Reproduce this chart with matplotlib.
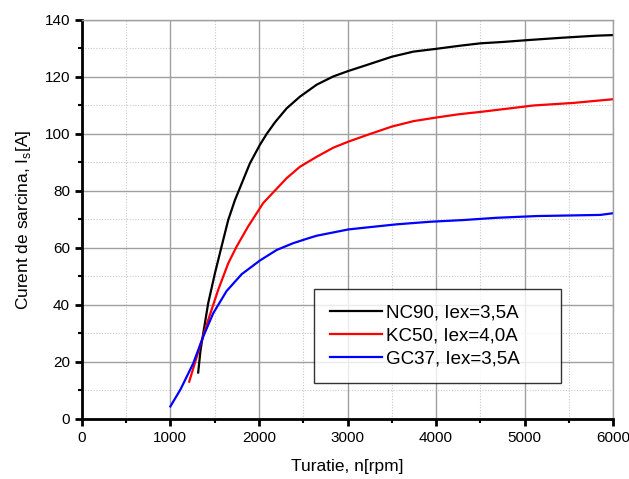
import matplotlib

matplotlib.use("Agg")
import matplotlib.pyplot as plt
from matplotlib.ticker import MultipleLocator

plt.rcParams["font.family"] = ["Liberation Sans", "DejaVu Sans"]

# NC90, Iex=3,5A
nc90_n = [1314, 1340, 1371, 1427, 1503, 1578, 1653, 1729, 1898, 2011, 2087, 2181,
          2313, 2463, 2652, 2840, 3009, 3217, 3500, 3744, 4008, 4252, 4497, 4760, 5062,
          5438, 5816, 6000]
nc90_i = [16.3, 24, 30, 40.6, 51.1, 60.5, 69.8, 76.8, 89.7, 96.2, 100, 104.1,
          109, 113.1, 117.3, 120.2, 122.1, 124.2, 127.1, 128.9, 129.9, 130.9, 131.8, 132.3, 133,
          133.8, 134.5, 134.7]

# KC50, Iex=4,0A
kc50_n = [1213, 1333, 1427, 1540, 1653, 1748, 1879, 2049, 2313, 2463, 2652,
          2840, 3009, 3217, 3500, 3744, 4008, 4252, 4516, 4836, 5099, 5551, 6000]
kc50_i = [13.1, 25.4, 34.7, 45.3, 54.6, 60.5, 67.6, 75.8, 84.5, 88.5, 92,
          95.2, 97.3, 99.6, 102.6, 104.5, 105.8, 106.9, 107.8, 109, 110, 110.9, 112.2]

# GC37, Iex=3,5A
gc37_n = [1000, 1115, 1258, 1371, 1484, 1635, 1805, 2011, 2200, 2388, 2557, 2652, 3009,
          3217, 3556, 3932, 4308, 4686, 5138, 5853, 6000]
gc37_i = [4.4, 10.4, 19.5, 28.9, 37.1, 44.9, 50.8, 55.6, 59.3, 61.7, 63.4, 64.3, 66.5,
          67.2, 68.3, 69.2, 69.8, 70.6, 71.2, 71.6, 72.2]

fig = plt.figure(figsize=(6.29, 4.79), dpi=100)
ax = fig.add_axes([0.130, 0.1253, 0.845, 0.833])

ax.plot(nc90_n, nc90_i, color="black", lw=1.6, label="NC90, Iex=3,5A")
ax.plot(kc50_n, kc50_i, color="#ff0000", lw=1.6, label="KC50, Iex=4,0A")
ax.plot(gc37_n, gc37_i, color="#0000ff", lw=1.6, label="GC37, Iex=3,5A")

ax.set_xlim(0, 6000)
ax.set_ylim(0, 140)
ax.xaxis.set_major_locator(MultipleLocator(1000))
ax.xaxis.set_minor_locator(MultipleLocator(500))
ax.yaxis.set_major_locator(MultipleLocator(20))
ax.yaxis.set_minor_locator(MultipleLocator(10))

ax.grid(True, which="major", color="#a0a0a0", lw=1.0)
ax.grid(True, which="minor", color="#c8c8c8", lw=0.8, linestyle=(0, (1, 1.5)))
ax.set_axisbelow(True)

for side in ("top", "right"):
    ax.spines[side].set_color("#a0a0a0")
    ax.spines[side].set_linewidth(1.0)
for side in ("left", "bottom"):
    ax.spines[side].set_color("black")
    ax.spines[side].set_linewidth(2.0)

ax.tick_params(which="major", direction="out", length=5, width=2, labelsize=11, colors="black")
ax.tick_params(which="minor", direction="out", length=3, width=1.5)
ax.tick_params(axis="both", which="both", top=False, right=False)

ax.set_xlabel("Turatie, n[rpm]", fontsize=12.5, labelpad=10)
ax.set_ylabel("Curent de sarcina, I$_\\mathregular{s}$[A]", fontsize=12.5, labelpad=8)

leg = ax.legend(loc="lower left", bbox_to_anchor=(0.437, 0.09, 0.465, 0.236), mode="expand",
                fontsize=13.5, frameon=True, fancybox=False, edgecolor="black",
                handlelength=2.8, handletextpad=0.2, labelspacing=0.3, borderpad=0.85,
                borderaxespad=0)
leg.get_frame().set_linewidth(1.0)

fig.savefig("out.png", dpi=100)
